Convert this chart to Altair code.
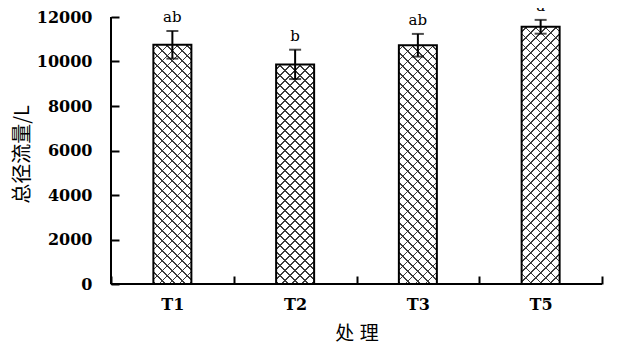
import altair as alt
import pandas as pd

# ---- data ----
treatments = ["T1", "T2", "T3", "T5"]
runoff = [10750, 9870, 10730, 11560]
errors = [620, 660, 510, 310]
letters = ["ab", "b", "ab", "a"]

YMAX = 12000
W, H = 491, 267
BAR_W = 38
SPACING = 10.0   # hatch line spacing (px, measured along x+y)
LINE = 1.5       # hatch line thickness (px, along x+y)
INK = "#3a3a3a"

df = pd.DataFrame({
    "treat": treatments,
    "runoff": runoff,
    "err": errors,
    "letter": letters,
})
df["low"] = df["runoff"] - df["err"]
df["high"] = df["runoff"] + df["err"]


def hatch(value, flip, base):
    h = value / YMAX * H
    w = BAR_W
    L = w + h
    r = h / w
    k = (1 + r) / (1 + r * r)
    a, b = k, k * r
    stops = [{"offset": 0.0, "color": base}]
    i = 0
    while True:
        c = 5.0 + i * SPACING
        lo = (c - LINE / 2) / L
        hi = (c + LINE / 2) / L
        if lo >= 1:
            break
        lo = max(lo, 0.0)
        hi = min(hi, 1.0)
        stops += [
            {"offset": lo, "color": base},
            {"offset": lo, "color": INK},
            {"offset": hi, "color": INK},
            {"offset": hi, "color": base},
        ]
        i += 1
    stops.append({"offset": 1.0, "color": base})
    if flip:
        return {"gradient": "linear", "x1": 1, "y1": 0, "x2": 1 - a, "y2": b, "stops": stops}
    return {"gradient": "linear", "x1": 0, "y1": 0, "x2": a, "y2": b, "stops": stops}


base = alt.Chart(df)

x_enc = alt.X(
    "treat:N",
    sort=treatments,
    scale=alt.Scale(paddingInner=0, paddingOuter=0),
    axis=alt.Axis(
        title="处\u00a0\u200a理",
        orient="bottom",
        offset=-8,
        domain=False,
        tickSize=8,
        tickWidth=2,
        tickColor="black",
        tickBand="extent",
        labelAngle=0,
        labelFont="DejaVu Serif",
        labelFontSize=16,
        labelFontWeight="bold",
        labelColor="black",
        labelPadding=12,
        titleFont="Noto Sans CJK SC",
        titleFontSize=19,
        titleFontWeight="normal",
        titleColor="black",
        titlePadding=12,
    ),
)

y_scale = alt.Scale(domain=[0, YMAX], nice=False)
y_enc = alt.Y(
    "runoff:Q",
    scale=y_scale,
    axis=alt.Axis(
        title="总径流量/L",
        orient="left",
        offset=-8,
        domain=False,
        grid=False,
        values=[0, 2000, 4000, 6000, 8000, 10000, 12000],
        format="d",
        tickSize=8,
        tickWidth=2,
        tickColor="black",
        labelFont="DejaVu Serif",
        labelFontSize=16,
        labelFontWeight="bold",
        labelColor="black",
        labelPadding=19,
        titleFont="Noto Sans CJK SC",
        titleFontSize=20,
        titleFontWeight="normal",
        titleColor="black",
        titleAngle=270,
        titleX=-97,
        titleY=137,
        titleBaseline="middle",
        titleAlign="center",
    ),
)

layers = []
for t, v in zip(treatments, runoff):
    sub = base.transform_filter(alt.datum.treat == t)
    layers.append(
        sub.mark_bar(size=BAR_W, fill=hatch(v, False, "#ffffff"), strokeWidth=0).encode(x=x_enc, y=y_enc)
    )
    layers.append(
        sub.mark_bar(size=BAR_W, fill=hatch(v, True, "rgba(255,255,255,0)"),
                     stroke="black", strokeWidth=2).encode(x=x_enc, y=y_enc)
    )

err_rule = base.mark_rule(color="black", strokeWidth=2).encode(
    x=alt.X("treat:N", sort=treatments), y=alt.Y("low:Q", scale=y_scale), y2="high:Q"
)
cap_low = base.mark_tick(color="black", size=12, thickness=2).encode(
    x=alt.X("treat:N", sort=treatments), y=alt.Y("low:Q", scale=y_scale)
)
cap_high = base.mark_tick(color="black", size=12, thickness=2).encode(
    x=alt.X("treat:N", sort=treatments), y=alt.Y("high:Q", scale=y_scale)
)
labels = base.mark_text(
    dy=-9, baseline="alphabetic", font="DejaVu Serif", fontSize=15, color="black"
).encode(
    x=alt.X("treat:N", sort=treatments), y=alt.Y("high:Q", scale=y_scale), text="letter:N"
)

axis_df = pd.DataFrame({"v": [0]})
y_line = alt.Chart(axis_df).mark_rule(color="black", strokeWidth=2).encode(
    x=alt.value(0), y=alt.value(0), y2=alt.value(H)
)
x_line = alt.Chart(axis_df).mark_rule(color="black", strokeWidth=2).encode(
    y=alt.value(H), x=alt.value(0), x2=alt.value(W)
)

chart = alt.layer(*layers, err_rule, cap_low, cap_high, labels, y_line, x_line).properties(
    width=W,
    height=H,
    autosize=alt.AutoSizeParams(type="none"),
    padding={"left": 103, "top": 9, "right": 6, "bottom": 59},
    background="white",
).configure_view(stroke=None)

chart.save("out.html", embed_options={"renderer": "svg", "actions": False})
